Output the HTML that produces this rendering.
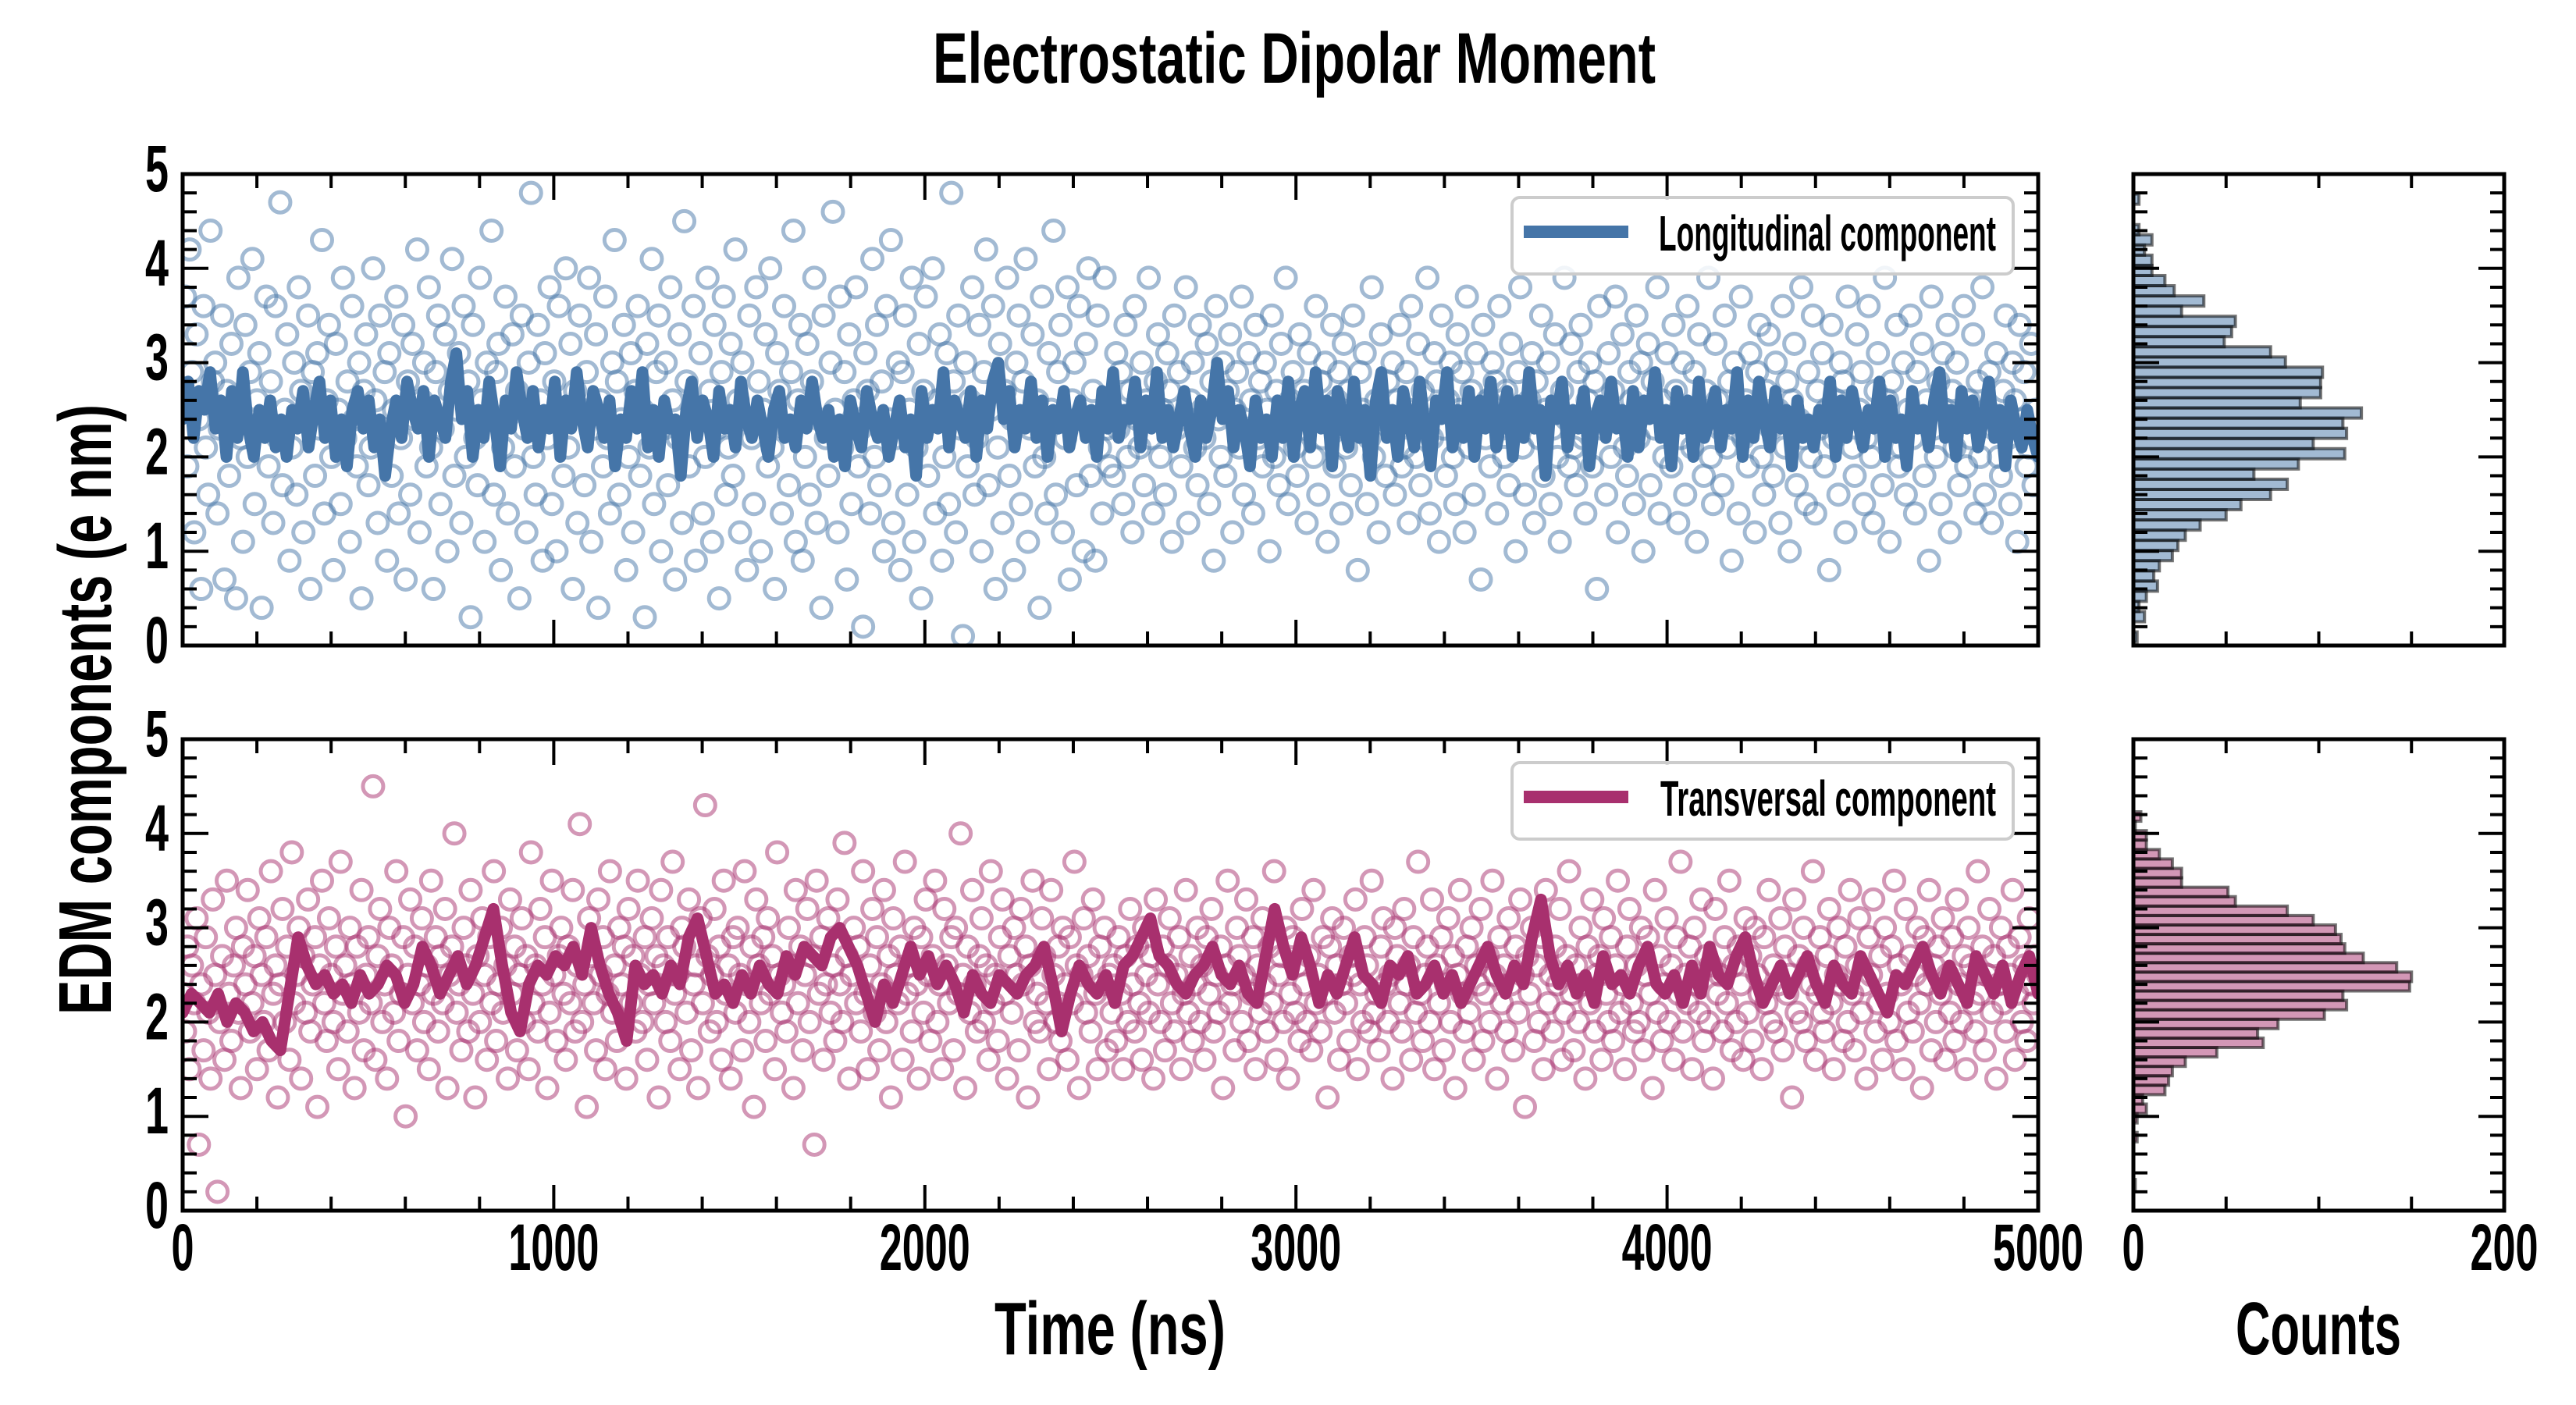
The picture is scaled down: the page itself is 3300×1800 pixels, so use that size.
<!DOCTYPE html>
<html><head><meta charset="utf-8"><title>Electrostatic Dipolar Moment</title>
<style>
html,body{margin:0;padding:0;background:#fff;}
svg{display:block;}
text{font-family:"Liberation Sans Narrow","Liberation Sans",sans-serif;font-weight:bold;fill:#000;}
</style></head>
<body>
<svg id="fig" width="3300" height="1800" viewBox="0 0 3300 1800" xmlns="http://www.w3.org/2000/svg">
<text x="1658" y="106" font-size="92" text-anchor="middle" textLength="926" lengthAdjust="spacingAndGlyphs">Electrostatic Dipolar Moment</text>
<text transform="translate(142,909) rotate(-90)" font-size="96" text-anchor="middle" textLength="782" lengthAdjust="spacingAndGlyphs">EDM components (e nm)</text>
<text x="1422" y="1735" font-size="96" text-anchor="middle" textLength="296" lengthAdjust="spacingAndGlyphs">Time (ns)</text>
<text x="2970" y="1735" font-size="96" text-anchor="middle" textLength="212" lengthAdjust="spacingAndGlyphs">Counts</text>
<g id="layer"></g>
</svg>
<script>
// ---------- data ----------
const timeRange = [0, 5000];
const yRange = [0, 5];
const countRange = [0, 200];
const yTicks = ["0","1","2","3","4","5"];
const xTickLabels = ["0","1000","2000","3000","4000","5000"];
const countTickLabels = ["0","200"];
const seriesNames = ["Longitudinal component", "Transversal component"];

const longScatter = [
2.6,3.7,1.9,4.2,2.9,1.2,3.3,2.4,0.6,3.6,2.1,1.6,4.4,2.8,3.0,1.4,2.3,3.5,0.7,2.7,
1.8,3.2,2.5,0.5,3.9,2.2,1.1,3.4,2.0,2.9,4.1,1.5,2.6,3.1,0.4,2.4,3.7,1.9,2.8,1.3,
3.6,2.2,4.7,1.7,2.5,3.3,0.9,2.1,3.0,1.6,3.8,2.7,1.2,2.4,3.5,0.6,2.9,1.8,3.1,2.3,
4.3,1.4,2.6,3.4,2.0,0.8,3.2,2.5,1.5,3.9,2.2,2.8,1.1,3.6,2.4,1.9,3.0,0.5,2.7,3.3,
1.7,2.1,4.0,2.6,1.3,3.5,2.3,2.9,0.9,3.1,1.8,2.5,3.7,1.4,2.2,3.4,0.7,2.8,1.6,3.2,
2.4,4.2,1.2,2.6,3.0,1.9,3.8,2.1,0.6,2.9,3.5,1.5,2.3,3.3,1.0,2.7,4.1,1.8,2.5,3.1,
1.3,3.6,2.0,2.8,0.3,3.4,2.2,1.7,3.9,2.6,1.1,3.0,2.4,4.4,1.6,2.9,3.2,0.8,2.1,3.7,
1.4,2.5,3.3,1.9,2.7,0.5,3.5,2.3,1.2,3.0,4.8,2.0,1.6,3.4,2.6,0.9,3.1,2.2,3.8,1.5,
2.8,1.0,3.6,2.4,1.8,4.0,2.1,3.2,0.6,2.7,1.3,3.5,2.5,1.7,2.9,3.9,1.1,2.3,3.3,0.4,
2.6,1.9,3.7,2.2,1.4,3.0,4.3,2.8,1.6,2.4,3.4,0.8,2.0,3.1,1.2,2.7,3.6,1.8,2.5,0.3,
3.2,2.1,4.1,1.5,2.9,3.5,1.0,2.3,3.0,1.7,3.8,2.6,0.7,2.2,3.3,1.3,4.5,2.8,1.9,2.4,
3.6,0.9,2.5,3.1,1.4,2.0,3.9,2.7,1.1,3.4,2.3,0.5,2.9,3.7,1.6,2.1,3.2,1.8,4.2,2.6,
1.2,3.0,2.4,0.8,3.5,2.2,1.5,3.8,2.8,1.0,2.5,3.3,1.9,4.0,2.1,0.6,3.1,2.7,1.4,3.6,
2.3,1.7,2.9,4.4,1.1,2.6,3.4,0.9,2.0,3.2,1.6,2.8,3.9,1.3,2.4,0.4,3.5,2.2,1.8,3.0,
4.6,2.5,1.2,3.7,2.1,2.9,0.7,3.3,1.5,2.6,3.8,1.9,2.3,0.2,3.1,2.7,1.4,4.1,2.0,3.4,
1.7,2.8,1.0,3.6,2.4,4.3,1.3,2.2,3.0,0.8,2.9,3.5,1.6,2.5,3.9,1.1,2.1,3.2,0.5,2.7,
3.7,1.8,2.4,4.0,1.4,2.6,3.3,0.9,2.0,3.1,1.5,4.8,2.8,1.2,3.5,2.3,0.1,3.0,1.9,2.6,
3.8,1.6,2.2,3.4,1.0,2.9,4.2,1.7,2.5,3.6,0.6,2.1,3.2,1.3,2.7,3.9,1.8,2.4,0.8,3.0,
3.5,1.5,2.8,4.1,1.1,2.3,3.3,1.9,2.6,0.4,3.7,2.0,1.4,3.1,2.5,4.4,1.6,2.9,3.4,1.2,
2.2,3.8,0.7,2.6,3.0,1.7,3.6,2.4,1.0,3.2,4.0,1.8,2.7,0.9,3.5,2.1,1.4,3.9,2.3,1.9,
2.5,1.8,3.1,2.3,2.9,1.5,3.4,2.0,2.7,1.2,3.6,2.4,2.1,3.0,1.7,2.6,3.9,2.2,1.4,2.8,
3.3,2.0,2.5,1.6,3.1,2.7,1.1,3.5,2.3,2.9,1.9,2.4,3.8,1.3,2.6,3.0,2.1,1.7,3.4,2.5,
2.2,3.2,1.5,2.8,0.9,3.6,2.4,2.0,3.0,1.8,2.7,3.3,1.2,2.5,2.9,2.1,3.7,1.6,2.3,3.1,
2.6,1.4,3.4,2.2,2.8,1.9,3.0,2.5,1.0,3.5,2.0,2.7,1.7,3.2,2.4,3.9,1.5,2.6,2.9,2.1,
1.8,3.3,2.3,2.7,1.3,3.1,2.5,2.0,3.6,1.6,2.8,2.2,3.0,1.1,2.4,3.4,1.9,2.6,2.9,1.4,
3.2,2.1,2.7,1.7,3.5,2.3,0.8,2.9,2.5,3.1,1.5,2.2,3.8,2.0,2.6,1.2,3.3,2.4,1.8,2.8,
2.3,3.0,1.6,2.6,3.4,1.9,2.1,2.9,1.3,3.6,2.5,2.0,3.2,1.7,2.7,2.4,3.9,1.4,2.2,3.1,
2.8,1.1,3.5,2.3,1.8,2.6,3.0,2.0,1.5,3.3,2.5,2.9,1.2,3.7,2.1,2.7,1.6,3.1,2.4,0.7,
3.4,2.2,2.6,1.9,3.0,2.8,1.4,3.6,2.3,2.0,2.7,1.7,3.2,2.5,1.0,2.9,3.8,2.1,1.6,2.4,
2.6,3.1,1.3,2.8,2.2,3.5,1.8,2.5,3.0,1.5,2.3,3.3,2.0,1.1,2.7,3.9,2.4,1.9,3.2,2.1,
1.7,2.9,3.4,2.2,1.4,2.6,3.0,1.9,2.8,0.6,3.6,2.3,2.5,1.6,3.1,2.0,2.7,3.7,1.2,2.4,
3.3,2.1,1.8,2.9,2.6,1.5,3.5,2.2,3.0,1.0,2.5,3.2,1.7,2.8,2.3,3.8,1.4,2.6,2.0,3.1,
2.4,1.9,3.4,2.7,1.3,2.2,3.0,1.6,3.6,2.5,2.1,2.9,1.1,3.3,2.4,1.8,2.7,3.9,2.0,1.5,
3.2,2.6,2.3,1.7,3.5,2.1,2.8,0.9,3.0,2.5,1.4,3.7,2.2,2.6,1.9,3.1,2.4,1.2,2.9,3.4,
2.0,1.6,2.7,3.3,2.3,1.8,3.0,2.5,1.3,3.6,2.1,2.8,1.0,2.6,3.2,1.7,2.4,3.8,2.2,1.5,
2.9,2.0,3.5,1.4,2.7,2.3,3.1,1.9,2.5,0.8,3.4,2.2,2.6,1.6,3.0,2.8,1.2,3.7,2.4,2.1,
1.8,3.3,2.5,2.9,1.5,2.2,3.6,2.0,1.3,2.7,3.1,2.4,1.7,3.9,2.6,1.1,2.8,2.3,3.4,1.9,
2.1,3.0,1.6,2.5,3.5,2.2,1.4,2.9,2.4,3.2,1.8,2.6,0.9,3.7,2.3,2.0,2.8,1.5,3.1,2.5,
3.4,1.2,2.7,2.1,3.0,1.7,2.4,3.6,1.9,2.6,2.2,3.3,1.4,2.8,2.0,3.8,1.6,2.5,2.9,1.3,
2.3,3.1,2.0,1.8,2.7,3.5,2.2,1.5,3.0,2.6,1.1,3.4,2.4,2.9,1.9,2.1,3.2,1.7,2.5,2.2
];
const longLine = [
2.4,2.8,2.2,2.7,2.5,2.9,2.3,2.6,2.0,2.7,2.2,2.9,2.3,2.0,2.5,2.2,2.6,2.1,2.4,2.0,
2.5,2.3,2.7,2.1,2.5,2.8,2.2,2.6,2.0,2.4,1.9,2.5,2.7,2.3,2.6,2.1,2.4,1.8,2.3,2.6,
2.2,2.8,2.5,2.3,2.7,2.0,2.6,2.4,2.2,2.8,3.1,2.4,2.7,2.0,2.5,2.2,2.8,2.4,1.9,2.6,
2.3,2.9,2.5,2.2,2.7,2.1,2.5,2.3,2.8,2.0,2.6,2.3,2.9,2.4,2.1,2.7,2.5,2.2,2.6,1.9,
2.4,2.2,2.7,2.3,2.9,2.1,2.5,2.0,2.6,2.3,2.4,1.8,2.5,2.8,2.2,2.6,2.4,2.0,2.7,2.3,
2.5,2.1,2.8,2.4,2.2,2.6,2.3,2.0,2.5,2.7,2.2,2.4,2.1,2.6,2.3,2.8,2.4,2.2,2.5,2.0,
2.4,1.9,2.6,2.3,2.1,2.7,2.4,2.2,2.5,2.0,2.3,2.6,2.1,2.4,1.8,2.7,2.2,2.5,2.3,2.9,
2.1,2.6,2.4,2.2,2.7,2.0,2.6,2.3,2.8,3.0,2.4,2.7,2.1,2.5,2.3,2.8,2.2,2.6,2.0,2.5,
2.3,2.7,2.1,2.4,2.6,2.2,2.5,2.0,2.7,2.3,2.9,2.2,2.5,2.4,2.8,2.1,2.6,2.3,2.9,2.2,
2.5,2.1,2.4,2.7,2.3,2.0,2.6,2.2,2.5,3.0,2.4,2.7,2.1,2.5,2.3,1.9,2.6,2.2,2.4,2.0,
2.6,2.2,2.8,2.0,2.5,2.7,2.1,2.9,2.3,2.6,1.9,2.7,2.4,2.1,2.8,2.2,2.5,1.8,2.6,2.9,
2.2,2.5,2.0,2.7,2.4,2.1,2.8,2.3,1.9,2.6,2.4,2.9,2.1,2.5,2.2,2.7,2.0,2.6,2.3,2.8,
2.1,2.4,2.7,2.0,2.6,2.2,2.9,2.3,2.5,1.8,2.6,2.4,2.8,2.1,2.5,2.3,2.7,1.9,2.4,2.6,
2.2,2.8,2.3,2.5,2.0,2.7,2.1,2.6,2.4,2.9,2.2,2.5,1.9,2.7,2.3,2.6,2.0,2.8,2.2,2.4,
2.7,2.1,2.5,2.3,2.9,2.0,2.6,2.2,2.8,2.4,2.1,2.7,2.3,2.5,1.9,2.6,2.2,2.4,2.1,2.5,
2.3,2.8,2.0,2.6,2.2,2.7,2.4,2.1,2.5,2.3,2.8,2.0,2.6,2.2,2.4,1.9,2.7,2.3,2.5,2.1,
2.6,2.9,2.2,2.5,2.0,2.7,2.3,2.6,2.1,2.4,2.8,2.2,2.5,1.9,2.6,2.3,2.1,2.5,2.2,2.0
];
const transScatter = [
2.3,1.9,2.8,1.5,2.6,2.2,3.1,0.7,2.4,1.7,2.9,2.1,1.4,3.3,2.5,0.2,2.0,2.7,1.6,3.5,
2.3,1.8,2.6,3.0,2.1,1.3,2.8,2.4,3.4,1.9,2.2,2.7,1.5,3.1,2.5,2.0,2.9,1.7,3.6,2.3,
2.6,1.2,2.4,3.2,2.0,2.8,1.6,3.8,2.2,2.5,3.0,1.4,2.7,2.1,3.3,1.9,2.4,2.9,1.1,2.6,
3.5,2.2,1.8,3.1,2.5,2.0,2.8,1.5,3.7,2.3,2.6,1.9,3.0,2.4,1.3,2.8,2.1,3.4,1.7,2.5,
2.9,2.2,4.5,1.6,2.7,3.2,2.0,2.4,1.4,3.0,2.6,2.1,3.6,1.8,2.3,2.9,1.0,2.5,3.3,2.2,
2.8,1.7,2.4,3.1,2.0,2.6,1.5,3.5,2.3,2.9,1.9,2.7,2.2,3.2,1.3,2.5,2.8,4.0,2.1,2.4,
1.7,3.0,2.6,1.9,3.4,2.3,1.2,2.7,2.0,3.1,2.5,1.6,2.9,2.2,3.6,1.8,2.4,3.0,2.1,2.6,
1.4,3.3,2.3,2.8,1.7,2.5,3.1,2.0,2.7,1.5,3.8,2.2,2.6,1.9,3.2,2.4,2.9,1.3,2.1,3.5,
2.5,1.8,2.7,3.0,2.3,1.6,2.8,2.2,3.4,1.9,2.6,4.1,2.0,2.4,1.1,3.1,2.7,2.2,1.7,3.3,
2.5,2.9,1.5,2.3,3.6,2.1,2.6,1.8,3.0,2.4,2.8,1.4,3.2,2.2,2.7,1.9,3.5,2.5,2.0,2.9,
1.6,2.4,3.1,2.2,2.7,1.2,3.4,2.6,2.0,2.9,1.8,3.7,2.3,2.5,1.5,3.0,2.8,2.1,3.3,1.7,
2.4,2.6,1.3,3.1,2.2,4.3,2.7,1.9,2.5,3.2,2.0,2.8,1.6,3.5,2.3,2.6,1.4,2.9,2.1,3.0,
2.5,1.7,3.6,2.4,2.0,2.8,1.1,3.3,2.6,2.2,2.9,1.8,3.1,2.3,2.7,1.5,3.8,2.5,2.1,2.4,
1.9,3.0,2.6,1.3,3.4,2.2,2.8,1.7,2.5,3.2,2.0,2.7,0.7,3.5,2.3,2.9,1.6,2.4,3.1,2.1,
2.6,1.8,3.3,2.4,2.0,3.9,2.7,1.4,2.5,3.0,2.2,2.8,1.9,3.6,2.3,1.5,2.6,3.2,2.1,2.9,
1.7,2.4,3.4,2.0,2.7,1.2,3.1,2.5,2.2,2.8,1.6,3.7,2.3,2.6,1.9,3.0,2.4,1.4,2.9,2.1,
3.3,2.5,1.8,2.7,3.5,2.0,2.4,1.5,3.2,2.6,2.2,2.9,1.7,3.0,2.3,4.0,2.5,1.3,2.8,2.1,
3.4,2.4,1.9,2.7,3.1,2.0,2.6,1.6,3.6,2.2,2.5,1.8,2.9,3.3,2.3,1.4,2.7,2.1,3.0,2.5,
1.7,3.2,2.4,2.8,1.2,2.6,3.5,2.0,2.3,1.9,3.1,2.7,2.2,1.5,3.4,2.5,2.0,2.8,1.8,3.0,
2.4,1.6,2.9,2.2,3.7,2.6,1.3,2.5,3.1,2.1,2.7,1.9,3.3,2.3,1.5,2.8,2.4,3.0,1.7,2.5,
2.1,2.6,1.8,2.9,2.3,1.5,2.7,2.0,3.2,2.4,1.9,2.8,2.2,1.6,3.0,2.5,2.1,2.7,1.4,3.3,
2.4,2.0,2.8,1.7,2.6,3.1,2.2,1.9,2.5,2.9,1.5,2.3,3.4,2.1,2.7,1.8,2.4,3.0,2.0,2.6,
1.6,2.9,2.3,3.2,1.9,2.5,2.1,2.8,1.3,2.6,3.5,2.2,2.4,1.7,3.0,2.7,2.0,2.5,3.3,1.8,
2.3,2.9,1.5,2.6,2.1,3.1,2.4,1.9,2.8,2.2,3.6,1.6,2.5,2.7,2.0,3.0,1.4,2.3,2.9,2.1,
2.6,1.8,3.2,2.4,2.0,2.7,1.7,3.4,2.2,2.5,1.9,2.9,2.3,1.2,2.8,3.1,2.1,2.6,1.6,2.4,
3.0,2.2,1.8,2.7,2.5,3.3,1.5,2.4,2.0,2.9,2.6,1.9,3.5,2.1,2.3,1.7,2.8,3.1,2.4,2.0,
2.5,1.4,3.0,2.7,2.2,1.9,3.2,2.4,2.6,1.6,2.9,2.1,3.7,2.3,1.8,2.5,2.8,2.0,3.3,1.5,
2.6,2.2,2.9,1.7,2.4,3.1,2.0,2.7,1.3,2.5,3.4,2.3,1.9,2.8,2.1,3.0,1.6,2.6,2.4,3.2,
1.8,2.3,2.7,2.0,3.5,2.5,1.4,2.9,2.2,2.6,1.9,3.1,2.4,1.7,2.8,2.1,3.3,2.5,1.1,2.7,
2.3,3.0,1.8,2.6,2.0,2.9,1.5,3.4,2.2,2.5,1.9,2.8,2.4,3.2,1.6,2.1,2.7,3.6,2.3,1.7,
2.6,2.0,3.0,2.4,1.4,2.8,2.2,3.3,1.9,2.5,2.7,1.6,3.1,2.3,2.0,2.9,1.8,2.6,3.5,2.1,
2.4,1.5,2.8,3.2,2.2,1.9,2.6,2.0,3.0,1.7,2.5,2.9,2.3,1.3,3.4,2.1,2.7,1.8,2.4,3.1,
2.0,2.6,1.6,2.9,2.3,3.7,1.9,2.5,2.2,2.8,1.5,3.0,2.4,2.1,3.3,1.8,2.7,2.0,2.6,1.4,
3.2,2.3,2.5,1.9,2.9,2.2,3.5,1.7,2.6,2.0,2.8,2.4,1.6,3.1,2.1,2.7,1.8,3.0,2.5,2.3,
1.5,2.9,2.2,3.4,2.0,2.6,1.9,2.4,3.1,1.7,2.8,2.3,2.5,1.2,3.3,2.1,2.7,2.0,3.0,1.8,
2.6,2.4,3.6,1.6,2.3,2.9,2.1,1.9,2.7,3.2,2.2,1.5,2.5,3.0,2.4,1.8,2.8,2.0,3.4,2.3,
1.7,2.6,3.1,2.1,2.4,1.4,2.9,2.5,3.3,1.9,2.2,2.7,1.6,3.0,2.3,2.0,2.8,3.5,1.8,2.6,
2.4,1.5,3.2,2.1,2.7,1.9,2.5,3.0,2.2,1.3,2.9,2.4,3.4,1.7,2.6,2.0,2.8,2.3,3.1,1.6,
2.5,2.1,2.9,1.8,3.3,2.4,2.0,2.7,1.5,3.0,2.6,2.2,1.9,3.6,2.3,2.8,1.7,2.5,3.2,2.1,
2.7,1.4,2.4,3.0,2.2,1.9,2.8,2.5,3.4,1.6,2.3,2.9,2.0,2.6,1.8,3.1,2.4,2.2,2.7,2.5
];
const transLine = [
2.1,2.3,2.2,2.1,2.3,2.0,2.2,2.1,1.9,2.0,1.8,1.7,2.3,2.9,2.6,2.4,2.5,2.3,2.4,2.2,
2.5,2.3,2.4,2.6,2.5,2.2,2.4,2.8,2.6,2.3,2.5,2.7,2.4,2.6,2.9,3.2,2.6,2.1,1.9,2.4,
2.6,2.5,2.7,2.6,2.8,2.5,3.0,2.6,2.3,2.1,1.8,2.6,2.4,2.5,2.3,2.6,2.4,2.9,3.1,2.7,
2.3,2.4,2.2,2.5,2.3,2.6,2.4,2.3,2.7,2.5,2.8,2.7,2.6,2.9,3.0,2.8,2.6,2.3,2.0,2.4,
2.2,2.5,2.8,2.5,2.7,2.4,2.6,2.4,2.1,2.5,2.3,2.2,2.5,2.4,2.3,2.5,2.6,2.8,2.4,1.9,
2.3,2.6,2.4,2.3,2.5,2.2,2.6,2.7,2.9,3.1,2.7,2.6,2.4,2.3,2.5,2.6,2.8,2.5,2.4,2.6,
2.3,2.2,2.7,3.2,2.8,2.5,2.9,2.6,2.2,2.5,2.3,2.6,2.9,2.5,2.4,2.2,2.6,2.5,2.7,2.3,
2.4,2.6,2.3,2.5,2.2,2.4,2.6,2.8,2.5,2.3,2.6,2.4,2.9,3.3,2.7,2.4,2.6,2.3,2.5,2.2,
2.7,2.4,2.5,2.3,2.6,2.8,2.4,2.3,2.5,2.2,2.6,2.3,2.8,2.5,2.4,2.7,2.9,2.5,2.2,2.4,
2.6,2.3,2.5,2.7,2.4,2.2,2.6,2.4,2.3,2.7,2.5,2.3,2.1,2.5,2.4,2.6,2.8,2.5,2.3,2.6,
2.4,2.2,2.7,2.5,2.3,2.6,2.2,2.5,2.7,2.3
];
const histBinWidth = [0.108, 0.1];
const histBinStart = [0.036, 0.23];
const longCounts = [2,0,6,3,7,13,11,14,21,24,28,36,50,58,74,83,65,89,114,97,115,113,123,90,101,101,102,82,74,49,53,55,26,38,22,17,10,10,6,10,3,0,0,3];
const transCounts = [1,0,0,0,0,2,0,2,7,5,17,19,21,28,45,70,67,78,103,115,113,149,150,142,124,114,112,109,97,83,55,51,26,26,21,14,7,7,1,4];

// ---------- layout ----------
const NS = "http://www.w3.org/2000/svg";
const layer = document.getElementById('layer');
const mainX = [234, 2611], histX = [2733, 3208];
const panelsY = [[223, 827], [947, 1551]];
const colors = [{line:"#4575a8", fill:"rgba(69,117,168,0.5)"}, {line:"#a8306e", fill:"rgba(168,48,110,0.5)"}];

function mk(tag, attrs, parent){ const e=document.createElementNS(NS,tag); for(const k in attrs) e.setAttribute(k,attrs[k]); (parent||layer).appendChild(e); return e; }
function xScale(t){ return mainX[0] + (t-timeRange[0])/(timeRange[1]-timeRange[0])*(mainX[1]-mainX[0]); }
function cScale(c){ return histX[0] + (c-countRange[0])/(countRange[1]-countRange[0])*(histX[1]-histX[0]); }
function yScale(p){ const r=panelsY[p]; return v => r[1] - (v-yRange[0])/(yRange[1]-yRange[0])*(r[1]-r[0]); }

function ticks(p, x0, x1, xMajors, xMinors){
  const ys=yScale(p), r=panelsY[p];
  const g=mk('g',{});
  
  
  for(let v=0; v<=5.0001; v+=0.2){
    const y=ys(v); const major=Math.abs(v-Math.round(v))<1e-6; const L=major?33:18;
    mk('line',{x1:x0,y1:y,x2:x0+L,y2:y,stroke:'#000','stroke-width':4},g);
    mk('line',{x1:x1,y1:y,x2:x1-L,y2:y,stroke:'#000','stroke-width':4},g);
  }
  xMajors.forEach(x=>{ mk('line',{x1:x,y1:r[0],x2:x,y2:r[0]+33,stroke:'#000','stroke-width':4},g); mk('line',{x1:x,y1:r[1],x2:x,y2:r[1]-33,stroke:'#000','stroke-width':4},g); });
  xMinors.forEach(x=>{ mk('line',{x1:x,y1:r[0],x2:x,y2:r[0]+18,stroke:'#000','stroke-width':4},g); mk('line',{x1:x,y1:r[1],x2:x,y2:r[1]-18,stroke:'#000','stroke-width':4},g); });
}

function drawPanel(p, scatter, line, counts, name){
  const ys=yScale(p), r=panelsY[p], c=colors[p];
  const clipId='clip'+p;
  const cp=mk('clipPath',{id:clipId}); mk('rect',{x:mainX[0],y:r[0],width:mainX[1]-mainX[0],height:r[1]-r[0]},cp);
  const sg=mk('g',{'clip-path':'url(#'+clipId+')'});
  
  
  const n=scatter.length;
  scatter.forEach((v,i)=>{
    const t=timeRange[0]+i*(timeRange[1]-timeRange[0])/(n-1);
    const ci=mk('circle',{cx:xScale(t),cy:ys(v),r:13,fill:'none',stroke:c.line,'stroke-width':5,'stroke-opacity':0.5},sg);
    
    
  });
  const m=line.length;
  const pts=line.map((v,i)=>xScale(timeRange[0]+i*(timeRange[1]-timeRange[0])/(m-1)).toFixed(1)+','+ys(v).toFixed(1)).join(' ');
  const pl=mk('polyline',{points:pts,fill:'none',stroke:c.line,'stroke-width':15,'stroke-linejoin':'round','stroke-linecap':'round'},sg);
  
  
  const hg=mk('g',{});
  
  
  counts.forEach((cnt,k)=>{
    if(cnt<=0) return;
    const lo=histBinStart[p]+k*histBinWidth[p], hi=lo+histBinWidth[p];
    const b=mk('rect',{x:cScale(0),y:ys(hi),width:cScale(cnt)-cScale(0),height:ys(lo)-ys(hi),fill:c.fill,stroke:'rgba(0,0,0,0.55)','stroke-width':4},hg);
    
    
  });
  const xMaj=[], xMin=[];
  for(let t=0;t<=5000;t+=200){ (t%1000===0?xMaj:xMin).push(xScale(t)); }
  ticks(p, mainX[0], mainX[1], xMaj, xMin);
  ticks(p, histX[0], histX[1], [], [cScale(50),cScale(100),cScale(150)]);
  const f1=mk('rect',{x:mainX[0],y:r[0],width:mainX[1]-mainX[0],height:r[1]-r[0],fill:'none',stroke:'#000','stroke-width':5});
  
  
  const f2=mk('rect',{x:histX[0],y:r[0],width:histX[1]-histX[0],height:r[1]-r[0],fill:'none',stroke:'#000','stroke-width':5});
  
  
  yTicks.forEach(lbl=>{
    const tx=mk('text',{x:216,y:ys(+lbl)+22,'font-size':84,'text-anchor':'end',textLength:30,lengthAdjust:'spacingAndGlyphs'});
    tx.textContent=lbl;
    
    
  });
  const lg=mk('g',{});
  
  
  const top=r[0]+30;
  mk('rect',{x:1937,y:top,width:642,height:98,rx:10,fill:'rgba(255,255,255,0.85)',stroke:'#ccc','stroke-width':4},lg);
  mk('line',{x1:1952,y1:top+44,x2:2086,y2:top+44,stroke:c.line,'stroke-width':16},lg);
  const lt=mk('text',{x:2557,y:top+68,'font-size':64,'text-anchor':'end',textLength:(p===0?432:430),lengthAdjust:'spacingAndGlyphs'},lg);
  lt.textContent=seriesNames[p];
  
  
}
drawPanel(0, longScatter, longLine, longCounts, 'longitudinal');
drawPanel(1, transScatter, transLine, transCounts, 'transversal');

xTickLabels.forEach(lbl=>{
  const tx=mk('text',{x:xScale(+lbl),y:1627,'font-size':84,'text-anchor':'middle',textLength:29*lbl.length,lengthAdjust:'spacingAndGlyphs'});
  tx.textContent=lbl;
  
  
});
countTickLabels.forEach(lbl=>{
  const tx=mk('text',{x:cScale(+lbl),y:1627,'font-size':84,'text-anchor':'middle',textLength:29*lbl.length,lengthAdjust:'spacingAndGlyphs'});
  tx.textContent=lbl;
  
  
});
</script>
</body></html>
